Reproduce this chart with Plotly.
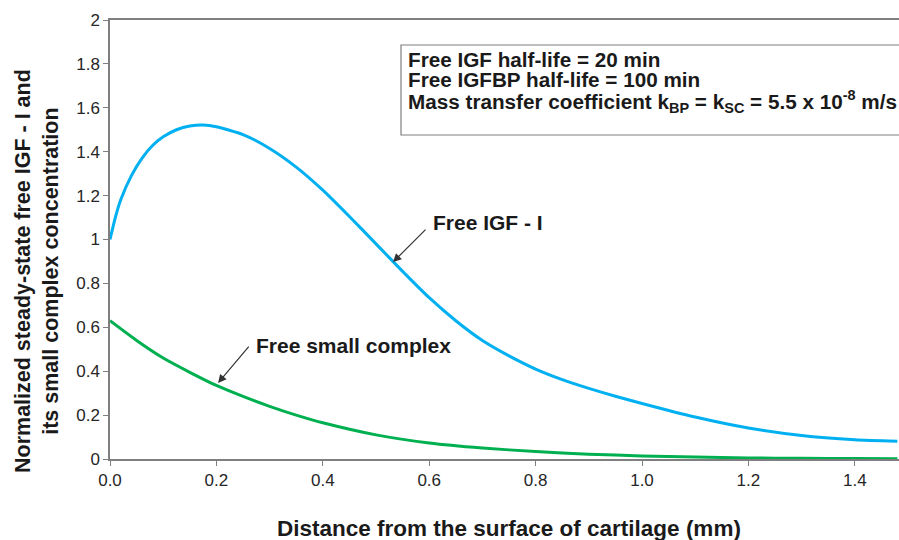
import plotly.graph_objects as go

# Distance from cartilage surface (mm)
distance_igf = [0.0, 0.01, 0.02, 0.04, 0.06, 0.08, 0.1, 0.125, 0.15, 0.175, 0.2, 0.25,
                0.3, 0.35, 0.4, 0.45, 0.5, 0.55, 0.6, 0.65, 0.7, 0.75, 0.8,
                0.85, 0.9, 0.95, 1.0, 1.1, 1.2, 1.3, 1.4, 1.48]
free_igf = [1.0, 1.1, 1.18, 1.29, 1.37, 1.428, 1.468, 1.5, 1.517, 1.522, 1.514, 1.478,
            1.415, 1.33, 1.225, 1.105, 0.98, 0.855, 0.735, 0.63, 0.54, 0.47, 0.41,
            0.362, 0.322, 0.286, 0.253, 0.191, 0.141, 0.107, 0.088, 0.081]

distance_sc = [0.0, 0.05, 0.1, 0.15, 0.2, 0.25, 0.3, 0.35, 0.4, 0.5, 0.6, 0.7, 0.8, 0.9,
               1.0, 1.1, 1.2, 1.3, 1.4, 1.48]
free_small_complex = [0.63, 0.54, 0.46, 0.395, 0.335, 0.285, 0.24, 0.2, 0.165, 0.11, 0.073,
                      0.05, 0.034, 0.022, 0.014, 0.009, 0.005, 0.003, 0.002, 0.001]

x_ticks = [0.0, 0.2, 0.4, 0.6, 0.8, 1.0, 1.2, 1.4]
x_tick_labels = ["0.0", "0.2", "0.4", "0.6", "0.8", "1.0", "1.2", "1.4"]
y_ticks = [0, 0.2, 0.4, 0.6, 0.8, 1.0, 1.2, 1.4, 1.6, 1.8, 2.0]
y_tick_labels = ["0", "0.2", "0.4", "0.6", "0.8", "1", "1.2", "1.4", "1.6", "1.8", "2"]

box_lines = [
    "Free IGF half-life = 20 min",
    "Free IGFBP half-life = 100 min",
    "Mass transfer coefficient k<sub>BP</sub> = k<sub>SC</sub> = 5.5 x 10<sup>-8</sup> m/s",
]

FONT = "Liberation Sans, Arial, sans-serif"
AXIS_COLOR = "#7f7f7f"
TEXT_COLOR = "#1a1a1a"

fig = go.Figure()
fig.add_trace(go.Scatter(x=distance_igf, y=free_igf, mode="lines",
                         line=dict(color="#00B0F0", width=3, shape="spline", smoothing=0.6),
                         name="Free IGF - I"))
fig.add_trace(go.Scatter(x=distance_sc, y=free_small_complex, mode="lines",
                         line=dict(color="#00B050", width=3, shape="spline", smoothing=0.6),
                         name="Free small complex"))

W, H = 899, 540
ML, MR, MT, MB = 110, 0, 20, 81
PW, PH = W - ML - MR, H - MT - MB


def px_x(p):
    return (p - ML) / PW


def px_y(p):
    return (H - MB - p) / PH


annotations = []
# Arrows
annotations.append(dict(x=0.532, y=0.897, xref="x", yref="y", text="", showarrow=True,
                        ax=34, ay=-34, arrowhead=2, arrowsize=1.4, arrowwidth=1.2,
                        arrowcolor="#333333", standoff=0))
annotations.append(dict(x=0.203, y=0.346, xref="x", yref="y", text="", showarrow=True,
                        ax=32, ay=-38, arrowhead=2, arrowsize=1.4, arrowwidth=1.2,
                        arrowcolor="#333333", standoff=0))
# Curve labels
annotations.append(dict(x=px_x(431), y=px_y(222), xref="paper", yref="paper",
                        text="<b>Free IGF - I</b>", showarrow=False, xanchor="left",
                        yanchor="middle", font=dict(family=FONT, size=21, color=TEXT_COLOR)))
annotations.append(dict(x=px_x(254), y=px_y(345), xref="paper", yref="paper",
                        text="<b>Free small complex</b>", showarrow=False, xanchor="left",
                        yanchor="middle", font=dict(family=FONT, size=21, color=TEXT_COLOR)))
# Box text
for py, line in zip([59, 80, 101], box_lines):
    annotations.append(dict(x=px_x(406), y=px_y(py), xref="paper", yref="paper",
                            text="<b>" + line + "</b>", showarrow=False, xanchor="left",
                            yanchor="middle", font=dict(family=FONT, size=20.7, color=TEXT_COLOR)))
# Axis titles
annotations.append(dict(x=px_x(509), y=px_y(528), xref="paper", yref="paper",
                        text="<b>Distance from the surface of cartilage (mm)</b>",
                        showarrow=False, xanchor="center", yanchor="middle",
                        font=dict(family=FONT, size=22.5, color=TEXT_COLOR)))
annotations.append(dict(x=px_x(37), y=px_y(271), xref="paper", yref="paper",
                        text="<b>Normalized steady-state free IGF - I and<br>its small complex concentration</b>",
                        showarrow=False, xanchor="center", yanchor="middle", textangle=-90,
                        font=dict(family=FONT, size=21.5, color=TEXT_COLOR)))

shapes = [dict(type="rect", xref="paper", yref="paper",
               x0=px_x(401), x1=1.01, y0=px_y(135), y1=px_y(45),
               line=dict(color=AXIS_COLOR, width=1.2), fillcolor="rgba(0,0,0,0)")]

fig.update_layout(
    width=W, height=H,
    margin=dict(l=ML, r=MR, t=MT, b=MB),
    plot_bgcolor="white", paper_bgcolor="white",
    showlegend=False,
    annotations=annotations,
    shapes=shapes,
    xaxis=dict(range=[0, PW / 532.0], tickvals=x_ticks, ticktext=x_tick_labels,
               ticks="outside", ticklen=5, tickwidth=1.2, tickcolor=AXIS_COLOR,
               showline=True, linecolor=AXIS_COLOR, linewidth=1.5, mirror=True,
               showgrid=False, zeroline=False, automargin=False,
               tickfont=dict(family=FONT, size=17, color="#262626")),
    yaxis=dict(range=[0, 2], tickvals=y_ticks, ticktext=y_tick_labels,
               ticks="outside", ticklen=5, tickwidth=1.2, tickcolor=AXIS_COLOR,
               showline=True, linecolor=AXIS_COLOR, linewidth=1.5,
               showgrid=False, zeroline=False, automargin=False,
               tickfont=dict(family=FONT, size=17, color="#262626")),
)

fig.write_html("out.html", config={"displayModeBar": False},
               post_script="document.body.style.margin='0';document.body.style.overflow='hidden';")
